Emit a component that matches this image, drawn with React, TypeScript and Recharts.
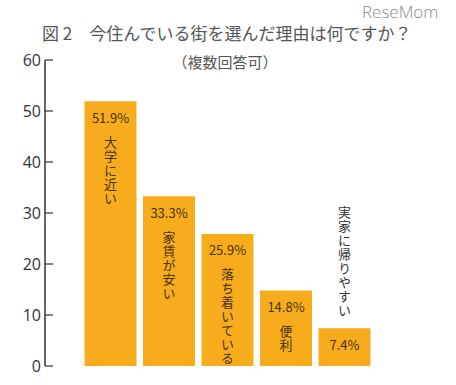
import React from 'react';
import { BarChart, Bar, XAxis, YAxis, LabelList } from 'recharts';

const categories = ['大学に近い', '家賃が安い', '落ち着いている', '便利', '実家に帰りやすい'];
const values = [51.9, 33.3, 25.9, 14.8, 7.4];
const nameInside = [true, true, true, true, false];
const yTicks = [0, 10, 20, 30, 40, 50, 60];

const titleText = '図 2　今住んでいる街を選んだ理由は何ですか？';
const subtitleText = '（複数回答可）';
const logoText = 'ReseMom';

const data = categories.map((name, i) => ({ name, value: values[i] }));

const FONT = "'Noto Sans CJK JP', 'Noto Sans', sans-serif";
const BAR_COLOR = '#F6AC1C';
const TEXT_IN = '#4a3206';

const BarLabel = (props: any) => {
  const { x, y, width, value, index } = props;
  const cx = Number(x) + Number(width) / 2;
  const top = Number(y);
  const name = categories[index];
  const n = Array.from(name).length;
  const pitch = 14;
  const inside = nameInside[index];
  const startY = inside ? top + 34 : top - 11 - n * pitch;
  return (
    <g>
      <text
        x={cx}
        y={top + 16}
        textAnchor="middle"
        dominantBaseline="central"
        fontSize={13}
        fontFamily={FONT}
        fill={TEXT_IN}
      >
        {`${Number(value).toFixed(1)}%`}
      </text>
      <text
        x={cx}
        y={startY}
        textAnchor="start"
        fontSize={13}
        fontFamily={FONT}
        letterSpacing={1}
        fill={inside ? TEXT_IN : '#333'}
        style={{ writingMode: 'vertical-rl' as any }}
      >
        {name}
      </text>
    </g>
  );
};

export default function App() {
  return (
    <div
      style={{
        position: 'absolute',
        left: 0,
        top: 0,
        width: 456,
        height: 385,
        background: '#fff',
        fontFamily: FONT,
      }}
    >
      <div
        style={{
          position: 'absolute',
          left: 362,
          top: 3,
          fontSize: 17,
          lineHeight: '18px',
          color: '#8a8a8a',
          fontWeight: 300,
          fontFamily: "'Open Sans', sans-serif",
        }}
      >
        {logoText}
      </div>
      <div
        style={{
          position: 'absolute',
          left: 42,
          top: 23,
          fontSize: 17,
          color: '#555',
          whiteSpace: 'nowrap',
          lineHeight: '20px',
        }}
      >
        {titleText}
      </div>
      <div
        style={{
          position: 'absolute',
          left: 0,
          width: 450,
          textAlign: 'center',
          top: 51,
          fontSize: 15,
          color: '#555',
          lineHeight: '22px',
        }}
      >
        {subtitleText}
      </div>
      <div style={{ position: 'absolute', left: 0, top: 0 }}>
        <BarChart
          width={456}
          height={385}
          data={data}
          margin={{ top: 60, right: 44, bottom: 19, left: 0 }}
        >
          <XAxis
            dataKey="name"
            height={0}
            tick={false}
            tickLine={false}
            axisLine={{ stroke: '#333', strokeWidth: 1.5 }}
            padding={{ left: 36.5, right: 38 }}
          />
          <XAxis
            xAxisId="end"
            type="number"
            domain={[0, 1]}
            ticks={[1]}
            height={0}
            tick={false}
            axisLine={false}
            tickLine={{ stroke: '#333', strokeWidth: 1.2 }}
            tickSize={-6}
          />
          <YAxis
            width={45}
            domain={[0, 60]}
            ticks={yTicks}
            interval={0}
            axisLine={{ stroke: '#333', strokeWidth: 1.5 }}
            tickLine={{ stroke: '#333', strokeWidth: 1.2 }}
            tickSize={-8}
            tickMargin={12}
            tick={{ fill: '#333', fontSize: 16, fontFamily: "'Open Sans', sans-serif" }}
          />
          <Bar dataKey="value" fill={BAR_COLOR} barSize={52} isAnimationActive={false}>
            <LabelList dataKey="value" content={BarLabel} />
          </Bar>
        </BarChart>
      </div>
    </div>
  );
}
